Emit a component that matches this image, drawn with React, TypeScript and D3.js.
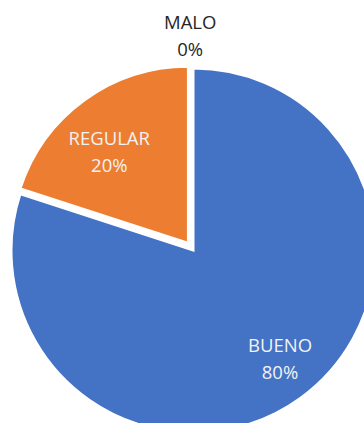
import React from "react";
import * as d3 from "d3";

const categories = ["BUENO", "REGULAR", "MALO"];
const values = [80, 20, 0];
const percentLabels = ["80%", "20%", "0%"];

const W = 364;
const H = 423;
const COLORS = ["#4472C4", "#ED7D31", "#A5A5A5"];
const TEXT_COLORS = ["#F2F2F2", "#F2F2F2", "#262626"];
// layout: per-slice explode distance, radius scale, label angle (deg), label radius factor
const EXPLODE = [0, 9.5, 0];
const RSCALE = [1, 0.967, 1];
const LABEL_ANGLE = [143, 317, -0.9];
const LABEL_R = [0.79, 0.655, 1.145];

export default function App() {
  const cx = 193.5;
  const cy = 250.5;
  const r = 182;
  const pie = d3.pie<number>().sort(null).value((d) => d)(values);

  return (
    <svg
      width={W}
      height={H}
      style={{ position: "absolute", left: 0, top: 0, background: "#fff" }}
      fontFamily="'Open Sans', sans-serif"
    >
      {pie.map((p, i) => {
        if (p.endAngle - p.startAngle <= 0) return null;
        const mid = (p.startAngle + p.endAngle) / 2;
        const ox = Math.sin(mid) * EXPLODE[i];
        const oy = -Math.cos(mid) * EXPLODE[i];
        const arc = d3.arc<d3.PieArcDatum<number>>().innerRadius(0).outerRadius(r * RSCALE[i]);
        return (
          <path
            key={"s" + i}
            d={arc(p) || ""}
            transform={`translate(${cx + ox},${cy + oy})`}
            fill={COLORS[i]}
            stroke="#fff"
            strokeWidth={2}
            strokeLinejoin="miter"
          />
        );
      })}
      {pie.map((p, i) => {
        const mid = (p.startAngle + p.endAngle) / 2;
        const ox = Math.sin(mid) * EXPLODE[i];
        const oy = -Math.cos(mid) * EXPLODE[i];
        const a = (LABEL_ANGLE[i] * Math.PI) / 180;
        const lr = r * RSCALE[i] * LABEL_R[i];
        const x = cx + ox + Math.sin(a) * lr;
        const y = cy + oy - Math.cos(a) * lr;
        return (
          <text
            key={"l" + i}
            x={x}
            y={y}
            textAnchor="middle"
            fontSize={18.5}
            fill={TEXT_COLORS[i]}
          >
            <tspan x={x} y={y - 13.5}>{categories[i]}</tspan>
            <tspan x={x} y={y + 13.5}>{percentLabels[i]}</tspan>
          </text>
        );
      })}
    </svg>
  );
}
